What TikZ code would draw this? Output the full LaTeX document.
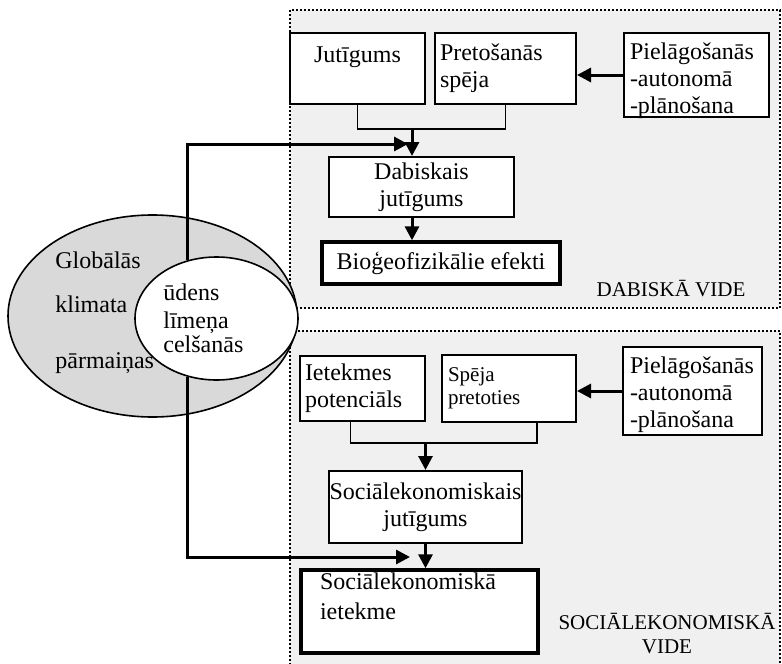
\documentclass[tikz,border=0pt]{standalone}
\usepackage{fontspec}
\setmainfont{Liberation Serif}
\usetikzlibrary{shapes.geometric,arrows.meta}

\tikzstyle{region}=[draw,line width=0.8pt,dash pattern=on 1pt off 1pt,fill=black!6]
\tikzstyle{blob}=[draw,ellipse,line width=0.8pt,inner sep=0pt]
\tikzstyle{box}=[draw,line width=1pt,fill=white,inner sep=0pt]
\tikzstyle{thickbox}=[box,line width=1.7pt]
\tikzstyle{flow}=[draw,line width=1.5pt,-{Triangle[length=7pt,width=7pt]}]
\tikzstyle{bracket}=[draw,line width=0.9pt]
\tikzstyle{smalltxt}=[font=\fontsize{10.5pt}{11.5pt}\selectfont]
\newcommand{\pxunit}{0.5pt}

\begin{document}
\begin{tikzpicture}[x=\pxunit, y=-\pxunit, font=\fontsize{12pt}{13.5pt}\selectfont]
    \useasboundingbox (0,0) rectangle (782,664);
    % First we draw the two environments
    \path[region] (290,10) rectangle (780,308);
    \path[region] (290,331) rectangle (780,690);
    % Climate change and sea level
    \node[blob, fill=black!15, minimum width=144.5pt, minimum height=101pt] (globe) at (152.5,316) {};
    \node[blob, fill=white, minimum width=81.5pt, minimum height=61.5pt] (sea) at (216.5,318.5) {};
    \foreach \y/\word [count=\i] in {268/Globālās, 312/klimata, 368/pārmaiņas}
        \node[anchor=base west, inner sep=0pt] (glob\i) at (55,\y) {\word};
    \foreach \y/\word [count=\i] in {300/ūdens, 328/līmeņa, 352/celšanās}
        \node[anchor=base west, inner sep=0pt] (sea\i) at (163,\y) {\word};

    % Natural environment
    \node[box, align=center, minimum width=67.5pt, minimum height=35.5pt] (jut) at (357.5,68.5) {Jutīgums\\\mbox{}};
    \node[box, align=left, inner xsep=2.5pt, text width=65.5pt, minimum height=35.5pt] (pret) at (505.5,68.5) {Pretošanās\\spēja};
    \node[box, align=left, inner xsep=3pt, text width=66.5pt, minimum height=42pt, text depth=24pt] (pielA) at (696.5,75) {Pielāgošanās\\-autonomā\\-plānošana};
    \node[box, align=center, minimum width=92.5pt, minimum height=30pt] (dab) at (421.5,187) {Dabiskais\\jutīgums};
    \node[thickbox, minimum width=119pt, minimum height=21pt] (bio) at (441,263) {Bioģeofizikālie efekti};
    \node[smalltxt] (dvide) at (671,289) {DABISKĀ VIDE};

    % Socio-economic environment
    \node[box, align=left, inner xsep=2.5pt, text width=57.5pt, minimum height=32.5pt] (iet) at (362.5,388.5) {Ietekmes\\potenciāls};
    \node[box, smalltxt, align=left, inner xsep=3pt, text width=61pt, minimum height=33.5pt] (spe) at (509,388.5) {Spēja\\pretoties};
    \node[box, align=left, inner xsep=3.5pt, text width=62.5pt, minimum height=44pt, text depth=26pt] (pielB) at (692.5,391) {Pielāgošanās\\-autonomā\\-plānošana};
    \node[box, align=center, minimum width=96.5pt, minimum height=36pt] (socj) at (425.5,507) {Sociālekonomiskais\\jutīgums};
    \node[thickbox, align=left, inner xsep=9.5pt, text width=99.5pt, minimum height=41.5pt, font=\fontsize{12pt}{15pt}\selectfont] (soci) at (419.5,611.5) {Sociālekonomiskā\\ietekme\\\mbox{}};
    \node[smalltxt, align=center, font=\fontsize{10.5pt}{12pt}\selectfont] (svide) at (667,634) {SOCIĀLEKONOMISKĀ\\VIDE};

    % Connect boxes with brackets and arrows
    \coordinate (jointop) at (412,129);
    \coordinate (dabin) at (408,144);
    \coordinate (joinbot) at (425.5,443);
    \coordinate (sociin) at (410,557);
    \path[bracket] (jut.south) |- (jointop) -| (pret.south);
    \path[bracket] ([xshift=-6pt]iet.south) |- (joinbot) -| ([xshift=14pt]spe.south);
    \foreach \source/\dest in {pielA/pret, pielB/spe}
        \path[flow] (\source.west) -- (\source.west -| \dest.east);
    \path[flow] (jointop) -- (jointop |- dab.north);
    \path[flow] (jointop |- dab.south) -- (jointop |- bio.north);
    \path[flow] (joinbot) -- (socj.north);
    \path[flow] (socj.south) -- (socj.south |- soci.north);
    \path[flow] (sea.116) |- (dabin);
    \path[flow] (sea.244) |- (sociin);
\end{tikzpicture}
\end{document}
